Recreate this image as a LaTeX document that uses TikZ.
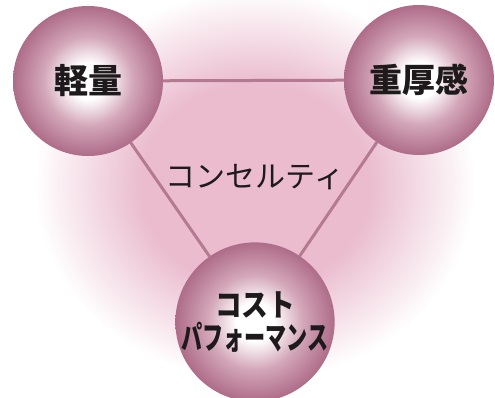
\documentclass[tikz,border=0pt]{standalone}
\usepackage{fontspec}
\setmainfont{Noto Sans CJK JP}
\usetikzlibrary{positioning}
\definecolor{concpink}{HTML}{EABCCE}
\definecolor{concrim}{HTML}{AE6C89}
\definecolor{concmid}{HTML}{D3A6B8}
\definecolor{concline}{HTML}{B47A91}
\definecolor{conctext}{HTML}{1E1A1C}
\pgfdeclareradialshading{ballshade}{\pgfpointorigin}{color(0bp)=(white); color(6bp)=(white); color(15bp)=(concmid); color(25bp)=(concrim); color(50bp)=(concrim)}
\pgfdeclareradialshading{glowshade}{\pgfpointorigin}{color(0bp)=(concpink); color(13bp)=(concpink); color(25bp)=(white); color(50bp)=(white)}
\tikzset{
  ball/.style={circle, minimum size=150pt, inner sep=0pt, outer sep=0pt, shading=ballshade, align=center, text=conctext, font=\bfseries},
  link/.style={draw=concline, line width=3pt},
  midtext/.style={text=conctext, font=\fontsize{30}{32}\selectfont},
}
\begin{document}
\begin{tikzpicture}[x=1pt,y=-1pt]
  \fill[white] (0,0) rectangle (495,398);
  \useasboundingbox (0,0) rectangle (495,398);
  \begin{scope}
    \clip (0,0) rectangle (495,398);
    \shade[shading=glowshade] (255,185) ellipse [x radius=220, y radius=195];
  \end{scope}
  \node[ball] (light) at (88,81) {\fontsize{34}{38}\selectfont 軽量};
  \node[ball] (heavy) at (419,80) {\fontsize{33}{38}\selectfont 重厚感};
  \node[ball] (cost) at (255,322) {\fontsize{31}{40}\selectfont\scalebox{0.86}[1]{コスト}\\[3pt]\fontsize{32}{38}\selectfont\scalebox{0.66}[1]{パフォーマンス}};
  \draw[link] (light) -- (heavy);
  \draw[link] (light) -- (cost);
  \draw[link] (heavy) -- (cost);
  \node[midtext] (concept) at (255,177) {コンセルティ};
\end{tikzpicture}
\end{document}
